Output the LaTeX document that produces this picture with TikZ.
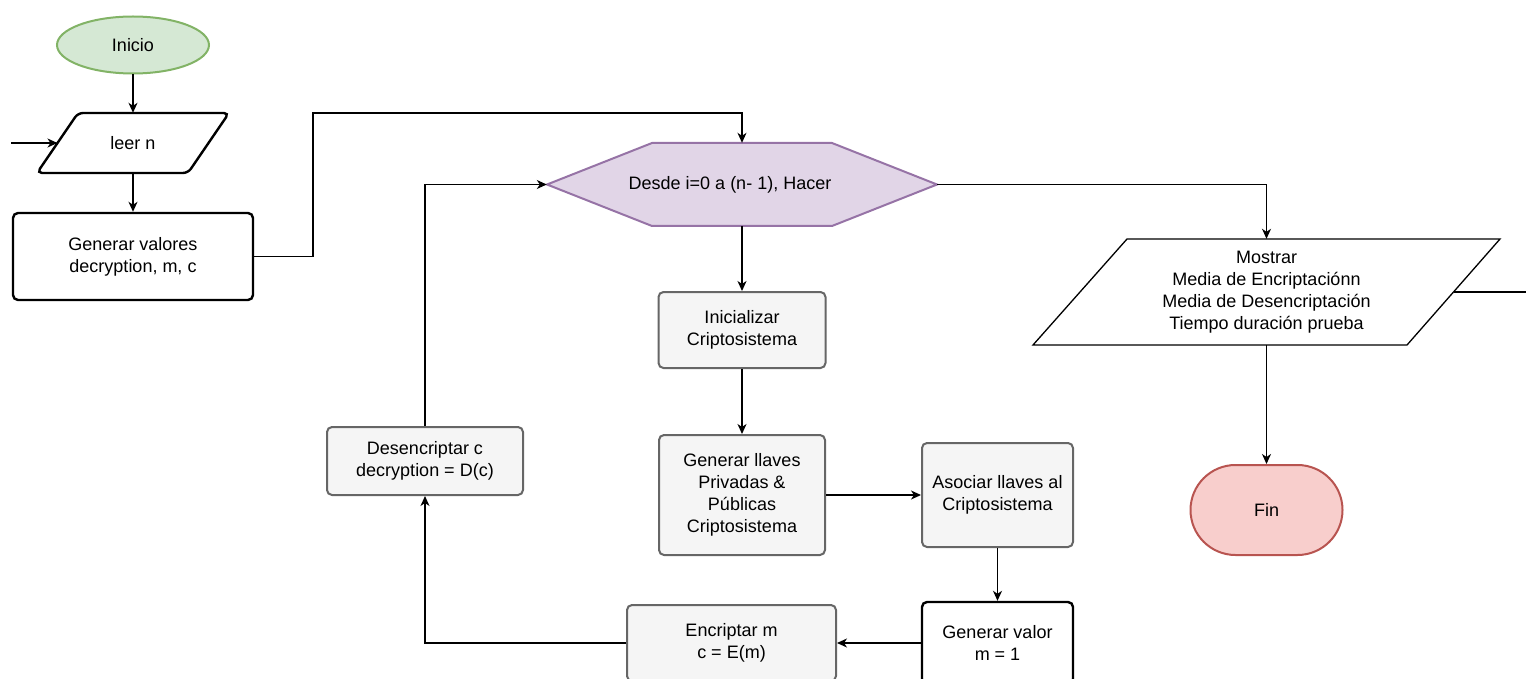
\documentclass[tikz,border=0pt]{standalone}
\usepackage{fontspec}
\setmainfont{Liberation Sans}
\usetikzlibrary{shapes.geometric,arrows.meta}
\definecolor{gfill}{HTML}{D5E8D4}
\definecolor{gline}{HTML}{82B366}
\definecolor{pfill}{HTML}{E1D5E7}
\definecolor{pline}{HTML}{9673A6}
\definecolor{rfill}{HTML}{F8CECC}
\definecolor{rline}{HTML}{B85450}
\definecolor{sfill}{HTML}{F5F5F5}
\definecolor{sline}{HTML}{666666}
\tikzset{
  every node/.style={font=\fontsize{18}{22}\selectfont, align=center, inner sep=0pt},
  arr/.style={line width=1.3pt, -{Stealth[length=10pt,width=9pt,inset=3pt]}},
  ln/.style={line width=1.3pt},
  thickbox/.style={draw=black, line width=2.4pt, rounded corners=5pt, fill=white},
  graybox/.style={draw=sline, line width=2pt, rounded corners=5pt, fill=sfill},
  startnode/.style={ellipse, draw=gline, fill=gfill, line width=2pt},
  endnode/.style={draw=rline, fill=rfill, line width=2pt, rounded corners=45pt},
}
\begin{document}
\begin{tikzpicture}[x=1pt,y=-1pt]
\useasboundingbox (0,0) rectangle (1526,679);
% Inicio
\node[startnode, minimum width=152pt, minimum height=57pt] (inicio) at (133,45) {Inicio};
% leer n (parallelogram)
\draw[line width=2.4pt, rounded corners=5pt, fill=white]
  (78,113) -- (229,113) -- (188,173) -- (37,173) -- cycle;
\node[minimum width=192pt, minimum height=60pt] (leer) at (133,143) {leer n};
\coordinate (leerW) at (57.5,143);
\coordinate (inL) at (11,143);
% Generar valores
\node[thickbox, minimum width=240pt, minimum height=87pt] (gen) at (133,256.5) {Generar valores\\decryption, m, c};
% Hexagon
\draw[draw=pline, fill=pfill, line width=2pt]
  (547,184.5) -- (652,143) -- (832,143) -- (937,184.5) -- (832,226) -- (652,226) -- cycle;
\node[minimum width=390pt, minimum height=83pt] (hex) at (742,184.5) {Desde i=0 a (n- 1), Hacer\hspace*{24pt}};
% Mostrar (parallelogram)
\draw[line width=1.3pt, fill=white]
  (1127,239) -- (1500,239) -- (1407,345) -- (1033,345) -- cycle;
\node[minimum width=467pt, minimum height=106pt] (mostrar) at (1266.5,292) {Mostrar\\Media de Encriptaciónn\\Media de Desencriptación\\Tiempo duración prueba};
\coordinate (mostrarE) at (1453.5,292);
\coordinate (outR) at (1526,292);
% Fin
\node[endnode, minimum width=152pt, minimum height=90pt] (fin) at (1266.5,510) {Fin};
% Gray boxes
\node[graybox, minimum width=167pt, minimum height=76pt] (ini) at (742,330) {Inicializar\\Criptosistema};
\node[graybox, minimum width=166pt, minimum height=120pt] (llaves) at (742,495) {Generar llaves\\Privadas \&\\Públicas\\Criptosistema};
\node[graybox, minimum width=151pt, minimum height=104pt] (asoc) at (997.5,495) {Asociar llaves al\\Criptosistema};
\node[thickbox, minimum width=151pt, minimum height=82pt] (gval) at (997.5,643) {Generar valor\\m = 1};
\node[graybox, minimum width=209pt, minimum height=76pt] (enc) at (731.5,643) {Encriptar m\\c = E(m)};
\node[graybox, minimum width=196pt, minimum height=68pt] (desc) at (425,461) {Desencriptar c\\decryption = D(c)};
% Connectors
\draw[arr] (inicio.south) -- (leer.north);
\draw[arr] (inL) -- (leerW);
\draw[arr] (leer.south) -- (gen.north);
\draw[arr] (gen.east) -| (313,113) -| (hex.north);
\draw[arr] (hex.east) -| (mostrar.north);
\draw[ln] (mostrarE) -- (outR);
\draw[arr] (mostrar.south) -- (fin.north);
\draw[arr] (hex.south) -- (ini.north);
\draw[arr] (ini.south) -- (llaves.north);
\draw[arr] (llaves.east) -- (asoc.west);
\draw[arr] (asoc.south) -- (gval.north);
\draw[arr] (gval.west) -- (enc.east);
\draw[arr] (enc.west) -| (desc.south);
\draw[arr] (desc.north) |- (hex.west);
\end{tikzpicture}
\end{document}
